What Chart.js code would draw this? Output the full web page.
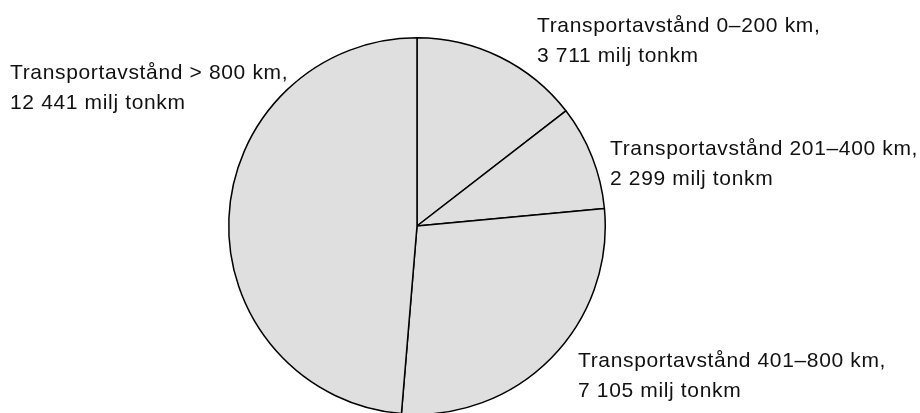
<!DOCTYPE html>
<html>
<head>
<meta charset="utf-8">
<script src="https://cdn.jsdelivr.net/npm/chart.js@4"></script>
<style>
  html, body { margin: 0; padding: 0; background: #fff; overflow: hidden; }
  #wrap { width: 920px; height: 413px; overflow: hidden; }
</style>
</head>
<body>
<div id="wrap"><canvas id="pie" width="920" height="415"></canvas></div>
<script>
// data (milj tonkm)
var kategorier = ["Transportavstånd 0–200 km,", "Transportavstånd 201–400 km,", "Transportavstånd 401–800 km,", "Transportavstånd > 800 km,"];
var tonkm = [3711, 2299, 7105, 12441];
var tonkmText = ["3 711 milj tonkm", "2 299 milj tonkm", "7 105 milj tonkm", "12 441 milj tonkm"];

// where each label sits, relative to the pie centre
var etikettPos = [[120, -194], [193, -71], [161, 141], [-407, -147]];

const etiketter = {
  id: "etiketter",
  afterDraw(chart) {
    var ctx = chart.ctx;
    var arc = chart.getDatasetMeta(0).data[0];
    ctx.save();
    ctx.fillStyle = "#111";
    ctx.font = "21px 'Liberation Sans', Arial, sans-serif";
    ctx.letterSpacing = "0.65px";
    ctx.textBaseline = "alphabetic";
    for (var i = 0; i < kategorier.length; i++) {
      var x = arc.x + etikettPos[i][0];
      var y = arc.y + etikettPos[i][1];
      ctx.fillText(kategorier[i], x, y);
      ctx.fillText(tonkmText[i], x, y + 30);
    }
    ctx.restore();
  }
};

new Chart(document.getElementById("pie"), {
  type: "pie",
  data: {
    labels: kategorier,
    datasets: [{
      data: tonkm,
      backgroundColor: "#dfdfdf",
      borderColor: "#000",
      borderWidth: 1.5
    }]
  },
  options: {
    responsive: false,
    animation: false,
    devicePixelRatio: 1,
    layout: { padding: { top: 37, bottom: 0, left: 0, right: 86 } },
    plugins: {
      legend: { display: false },
      tooltip: { enabled: false }
    }
  },
  plugins: [etiketter]
});
</script>
</body>
</html>
